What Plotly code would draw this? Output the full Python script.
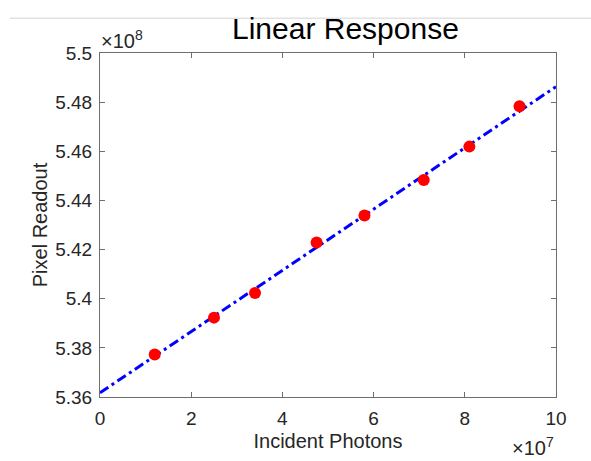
import plotly.graph_objects as go

# ---- data ----
photons = [1.2e7, 2.5e7, 3.4e7, 4.75e7, 5.8e7, 7.1e7, 8.1e7, 9.2e7]
readout = [5.3773e8, 5.3923e8, 5.4023e8, 5.4229e8, 5.4339e8, 5.4483e8, 5.4619e8, 5.4783e8]
fit_x = [0.0, 1.0e8]
fit_y = [5.3617e8, 5.4863e8]

x_tickvals = [0, 2e7, 4e7, 6e7, 8e7, 10e7]
x_ticktext = ["0", "2", "4", "6", "8", "10"]
y_tickvals = [5.36e8, 5.38e8, 5.40e8, 5.42e8, 5.44e8, 5.46e8, 5.48e8, 5.50e8]
y_ticktext = ["5.36", "5.38", "5.4", "5.42", "5.44", "5.46", "5.48", "5.5"]

title_text = "Linear Response"
x_label = "Incident Photons"
y_label = "Pixel Readout"
x_exp = "×10<sup>7</sup>"
y_exp = "×10<sup>8</sup>"

# ---- layout geometry (pixels) ----
W, H = 591, 461
L, R, T, B = 100, 35, 53, 61
pw, ph = W - L - R, H - T - B

def px(xp):
    return (xp - L) / pw

def py(yp):
    return (H - B - yp) / ph

FONT = "Liberation Sans, Arial, Helvetica, sans-serif"
AX = "#262626"

fig = go.Figure()
fig.add_trace(go.Scatter(
    x=fit_x, y=fit_y, mode="lines",
    line=dict(color="#0000ff", width=3, dash="10px,4px,3px,4px"),
    showlegend=False, hoverinfo="skip"))
fig.add_trace(go.Scatter(
    x=photons, y=readout, mode="markers",
    marker=dict(color="#ff0000", size=12, line=dict(width=0)),
    showlegend=False))

axis_common = dict(
    showgrid=False, zeroline=False, showline=True, linecolor="#6e6e6e",
    linewidth=1, mirror="ticks", ticks="inside", ticklen=5, tickwidth=1,
    tickcolor="#6e6e6e", tickfont=dict(family=FONT, size=19, color=AX),
)

fig.update_layout(
    width=W, height=H,
    margin=dict(l=L, r=R, t=T, b=B, pad=0),
    paper_bgcolor="white", plot_bgcolor="white",
    font=dict(family=FONT, color=AX),
    xaxis=dict(range=[0, 1.0e8], tickvals=x_tickvals, ticktext=x_ticktext,
               ticklabelstandoff=4,
               title=dict(text=x_label, font=dict(family=FONT, size=20, color=AX), standoff=6),
               **axis_common),
    yaxis=dict(range=[5.36e8, 5.5e8], tickvals=y_tickvals, ticktext=y_ticktext,
               ticklabelstandoff=3,
               title=dict(text=y_label, font=dict(family=FONT, size=20, color=AX), standoff=2),
               **axis_common),
    annotations=[
        dict(text=title_text, xref="paper", yref="paper", x=px(345.5), y=py(28),
             xanchor="center", yanchor="middle", showarrow=False,
             font=dict(family=FONT, size=30, color="#000000")),
        dict(text=y_exp, xref="paper", yref="paper", x=px(99), y=py(54),
             xanchor="left", yanchor="bottom", showarrow=False,
             font=dict(family=FONT, size=20, color=AX)),
        dict(text=x_exp, xref="paper", yref="paper", x=px(556), y=py(465),
             xanchor="right", yanchor="bottom", showarrow=False,
             font=dict(family=FONT, size=20, color=AX)),
    ],
    shapes=[
        dict(type="line", xref="paper", yref="paper", x0=px(10), x1=px(591),
             y0=py(18), y1=py(18), line=dict(color="#e2e2e2", width=1.5)),
    ],
)

fig.write_html("out.html")
